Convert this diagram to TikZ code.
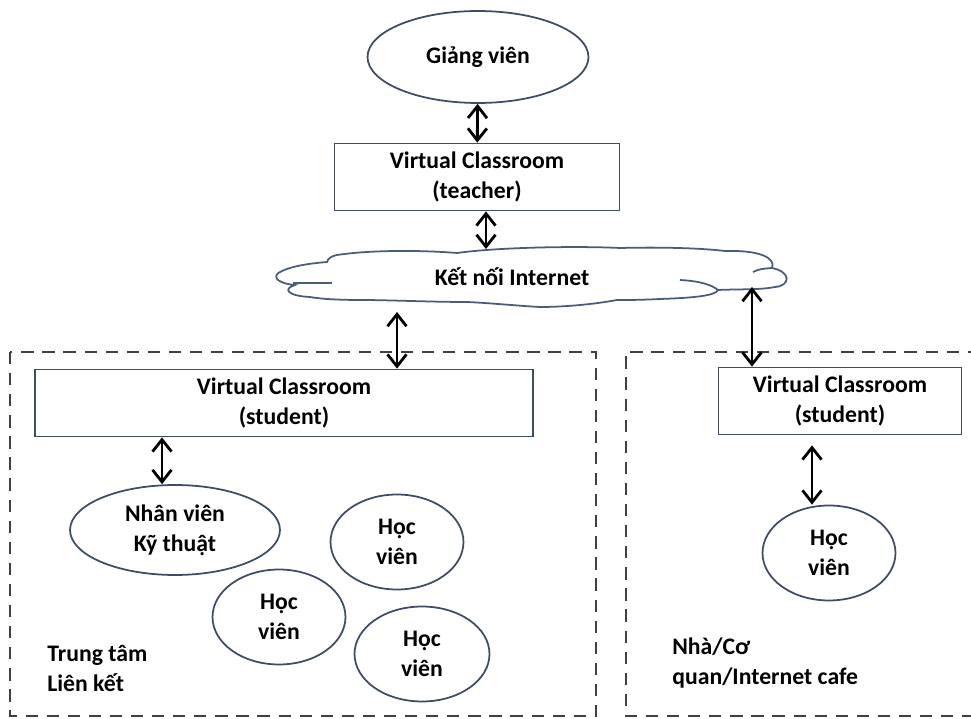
\documentclass[tikz,border=0pt]{standalone}
\usepackage{fontspec}
\setmainfont{Carlito}
\usetikzlibrary{positioning,arrows.meta,shapes.geometric}
\definecolor{edgeblue}{HTML}{3F4C66}
\definecolor{cloudblue}{HTML}{4A5C7A}

\begin{document}
\begin{tikzpicture}[
  x=0.02cm, y=-0.02cm,
  font=\bfseries\fontsize{13.5}{17}\selectfont,
  vcbox/.style={draw=edgeblue, line width=1pt, align=center, inner sep=2pt,
                minimum height=1.34cm},
  person/.style={draw=edgeblue, ellipse, line width=1pt, align=center, inner sep=0pt,
                 minimum width=2.66cm, minimum height=1.9cm},
  zone/.style={draw=black!75, line width=1.1pt, dash pattern=on 7pt off 5pt},
  arr/.style={{Straight Barb[length=2.4mm,width=3.8mm]}-{Straight Barb[length=2.4mm,width=3.8mm]},
              line width=1.6pt},
  note/.style={align=left, anchor=north west, inner sep=0pt}
]
  \useasboundingbox (0,0) rectangle (971,719);

  % Teacher side
  \node[person, minimum width=4.42cm, minimum height=1.84cm] (gv) at (478,57) {Giảng viên};
  \node[vcbox, minimum width=5.7cm] (vct) at (477,177) {Virtual Classroom\\(teacher)};

  % Cloud
  \draw[cloudblue, line width=1pt, fill=white]
    (337,255) .. controls (370,250) and (420,250) .. (457,253)
    .. controls (500,247) and (580,246) .. (620,248)
    .. controls (660,247) and (700,248) .. (725,251)
    .. controls (760,250) and (776,258) .. (772,268)
    .. controls (792,272) and (790,286) .. (775,287)
    .. controls (760,290) and (740,289) .. (718,290)
    .. controls (716,296) and (690,298) .. (660,299)
    .. controls (640,300) and (630,300) .. (617,300)
    .. controls (590,305) and (560,307) .. (540,307)
    .. controls (520,306) and (490,303) .. (467,302)
    .. controls (430,302) and (390,300) .. (360,300)
    .. controls (340,300) and (320,299) .. (310,297)
    .. controls (288,296) and (282,289) .. (295,285)
    .. controls (274,283) and (272,275) .. (282,271)
    .. controls (295,265) and (315,263) .. (327,262)
    .. controls (328,258) and (332,256) .. cycle;
  \draw[cloudblue, line width=1pt] (293,283) -- (332,283);
  \draw[cloudblue, line width=1pt] (753,272) .. controls (760,269) .. (772,268);
  \draw[cloudblue, line width=1pt] (680,280) .. controls (700,281) and (712,285) .. (718,290);
  \node (net) at (512,277) {Kết nối Internet};
  \coordinate (nettop) at (486,249);
  \coordinate (netbot) at (397,312);
  \coordinate (netr) at (752,287);

  % Zones
  \draw[zone] (10,352) rectangle (596,716);
  \draw[zone] (980,352) -- (626,352) -- (626,716) -- (980,716);

  % Trung tam
  \node[vcbox, minimum width=9.96cm] (vcl) at (284,403) {Virtual Classroom\\(student)};
  \node[person, minimum width=4.2cm, minimum height=1.8cm] (nv) at (175,530) {Nhân viên\\Kỹ thuật};
  \node[person] (hv1) at (397,542) {Học\\viên};
  \node[person] (hv2) at (279,617) {Học\\viên};
  \node[person, minimum width=2.7cm] (hv3) at (422,654) {Học\\viên};
  \node[note] (tt) at (47,645) {Trung tâm\\Liên kết};

  % Nha / co quan
  \node[vcbox, minimum width=4.86cm] (vcr) at (840,401) {Virtual Classroom\\(student)};
  \node[person] (hv4) at (829,553) {Học\\viên};
  \node[note] (nha) at (672,638) {Nhà/Cơ\\quan/Internet cafe};

  % Arrows
  \draw[arr] (gv) -- (vct);
  \draw[arr] (vct.south -| nettop) -- (nettop);
  \draw[arr] (netbot) -- (netbot |- vcl.north);
  \draw[arr] (netr) -- (netr |- vcr.north);
  \draw[arr] ([xshift=-0.26cm]nv.north |- vcl.south) -- ([xshift=-0.26cm]nv.north);
  \draw[arr] ([xshift=-0.34cm,yshift=-0.2cm]hv4.north |- vcr.south) -- ([xshift=-0.34cm]hv4.north);
\end{tikzpicture}
\end{document}
